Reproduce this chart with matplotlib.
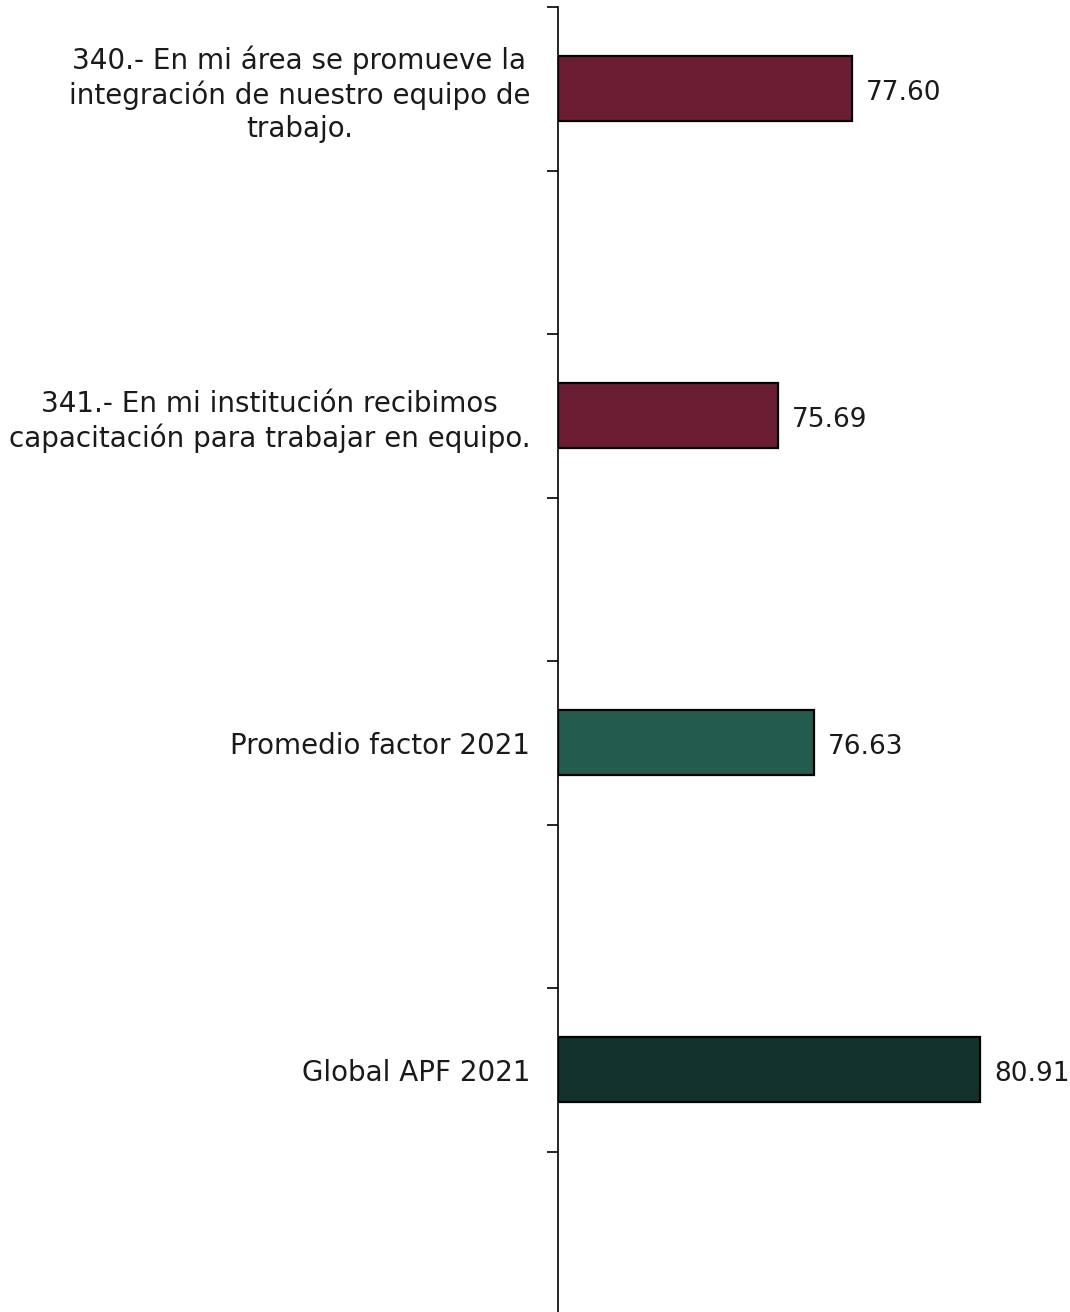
import matplotlib
matplotlib.use("Agg")
import matplotlib.pyplot as plt
import numpy as np

categories = [
    "340.- En mi área se promueve la\nintegración de nuestro equipo de\ntrabajo.",
    "341.- En mi institución recibimos\ncapacitación para trabajar en equipo.",
    "Promedio factor 2021",
    "Global APF 2021",
]
values = [77.60, 75.69, 76.63, 80.91]
colors = ["#6B1E33", "#6B1E33", "#235B4E", "#13322B"]
value_labels = ["77.60", "75.69", "76.63", "80.91"]

W, H = 1070, 1312
fig = plt.figure(figsize=(W / 100, H / 100), dpi=100)
left, right, top, bottom = 558, 1070, 7, 1315
ax = fig.add_axes([left / W, 1 - bottom / H, (right - left) / W, (bottom - top) / H])

font = ["DejaVu Sans"]
base = 70.0
n_slots = 2 * len(categories)
ypos = np.arange(len(categories)) * 2 + 0.5

ax.barh(ypos, np.array(values) - base, left=base, height=0.4,
        color=colors, edgecolor="black", linewidth=1.6)

for y, v, lab in zip(ypos, values, value_labels):
    ax.annotate(lab, (v, y), xytext=(10, -1), textcoords="offset points",
                va="center_baseline", ha="left", fontsize=19, family=font, color="#1a1a1a")

ax.set_ylim(n_slots, 0)
ax.set_xlim(base, base + (right - left) / 38.68)

ax.set_yticks(ypos)
ax.set_yticklabels(categories, fontsize=20, family=font, color="#1a1a1a",
                   multialignment="center", linespacing=1.22)
ax.tick_params(axis="y", which="major", length=0, pad=20)
ax.set_yticks(np.arange(0, n_slots + 1), minor=True)
ax.tick_params(axis="y", which="minor", length=8, width=1.2, color="black")

ax.set_xticks([])
for s in ["top", "right", "bottom"]:
    ax.spines[s].set_visible(False)
ax.spines["left"].set_linewidth(1.2)

fig.savefig("out.png", dpi=100)
